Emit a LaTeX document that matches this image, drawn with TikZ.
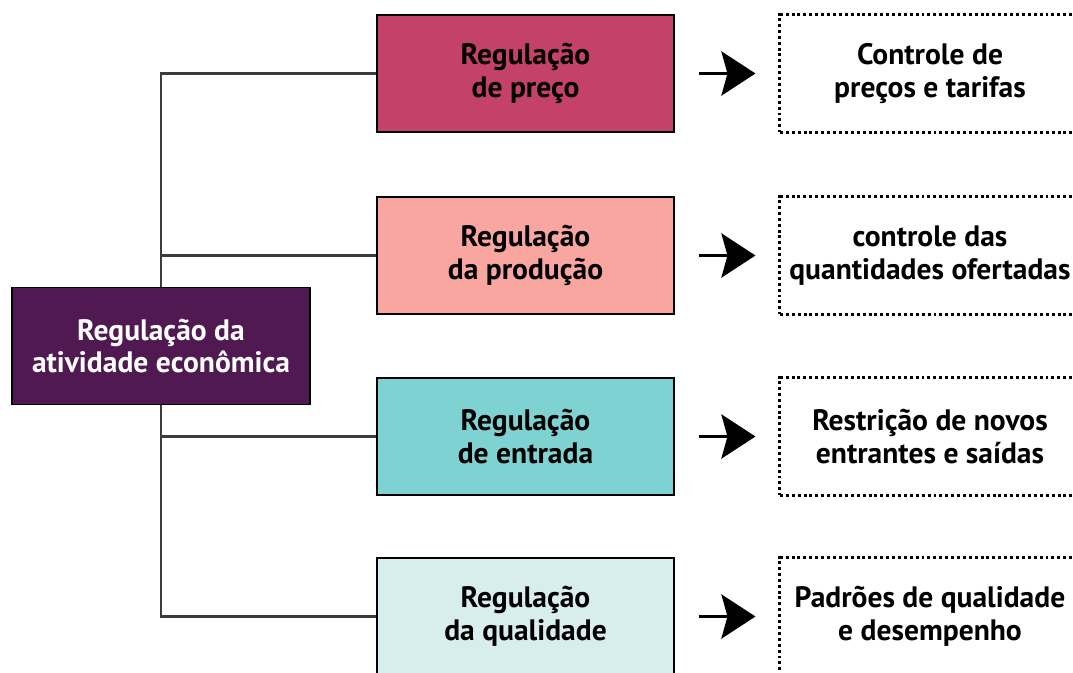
\documentclass[tikz,border=0pt]{standalone}
\usepackage{fontspec}
\setmainfont{PT Sans}
\usetikzlibrary{arrows.meta,positioning,calc}
\definecolor{mainC}{RGB}{80,25,82}
\definecolor{priceC}{RGB}{196,66,106}
\definecolor{prodC}{RGB}{250,166,160}
\definecolor{entryC}{RGB}{126,210,210}
\definecolor{qualC}{RGB}{216,238,236}
\definecolor{lineC}{RGB}{60,60,60}
\newcommand{\BoxW}{7.43cm}
\newcommand{\BoxH}{2.93cm}
\tikzset{
    block/.style  = {draw=black, line width=1pt,
            minimum width=\BoxW, minimum height=\BoxH,
            align=center, inner sep=0pt,
            font=\bfseries\fontsize{21}{23.4}\selectfont},
    mainbox/.style = {block, fill=mainC, text=white, minimum width=7.45cm},
    note/.style   = {block, draw=black, line width=2.1pt,
            dash pattern=on 2.1pt off 2.1pt, minimum width=7.5cm},
    line/.style   = {draw=lineC, line width=1.6pt},
    arrow/.style  = {-{Stealth[length=0.85cm, width=1.1cm, inset=0.15cm]},
            line width=2.8pt, shorten <=0.6cm, shorten >=0.575cm},
}

\begin{document}
\begin{tikzpicture}[x=0.025cm, y=-0.025cm]
    \useasboundingbox (0,0) rectangle (1073,672);
    \clip (0,0) rectangle (1073,672);

    % central box
    \node[mainbox] (main) at (161,346) {Regulação da\\atividade econômica};

    % regulation types
    \node[block, fill=priceC] (price) at (525.5,73.5) {Regulação\\de preço};
    \node[block, fill=prodC]  (prod)  at (525.5,255.5) {Regulação\\da produção};
    \node[block, fill=entryC] (entry) at (525.5,436.5) {Regulação\\de entrada};
    \node[block, fill=qualC]  (qual)  at (525.5,616.5) {Regulação\\da qualidade};

    % outcomes
    \node[note] (priceN) at (930,73.5)  {Controle de\\preços e tarifas};
    \node[note] (prodN)  at (930,255.5) {controle das\\quantidades ofertadas};
    \node[note] (entryN) at (930,436.5) {Restrição de novos\\entrantes e saídas};
    \node[note] (qualN)  at (930,616.5) {Padrões de qualidade\\e desempenho};

    % tree lines
    \draw[line] (main.north) |- (price.west);
    \draw[line] (main.north) |- (prod.west);
    \draw[line] (main.south) |- (entry.west);
    \draw[line] (main.south) |- (qual.west);

    % arrows
    \foreach \a/\b in {price/priceN, prod/prodN, entry/entryN, qual/qualN}
        \draw[arrow] (\a.east) -- (\b.west);
\end{tikzpicture}
\end{document}
